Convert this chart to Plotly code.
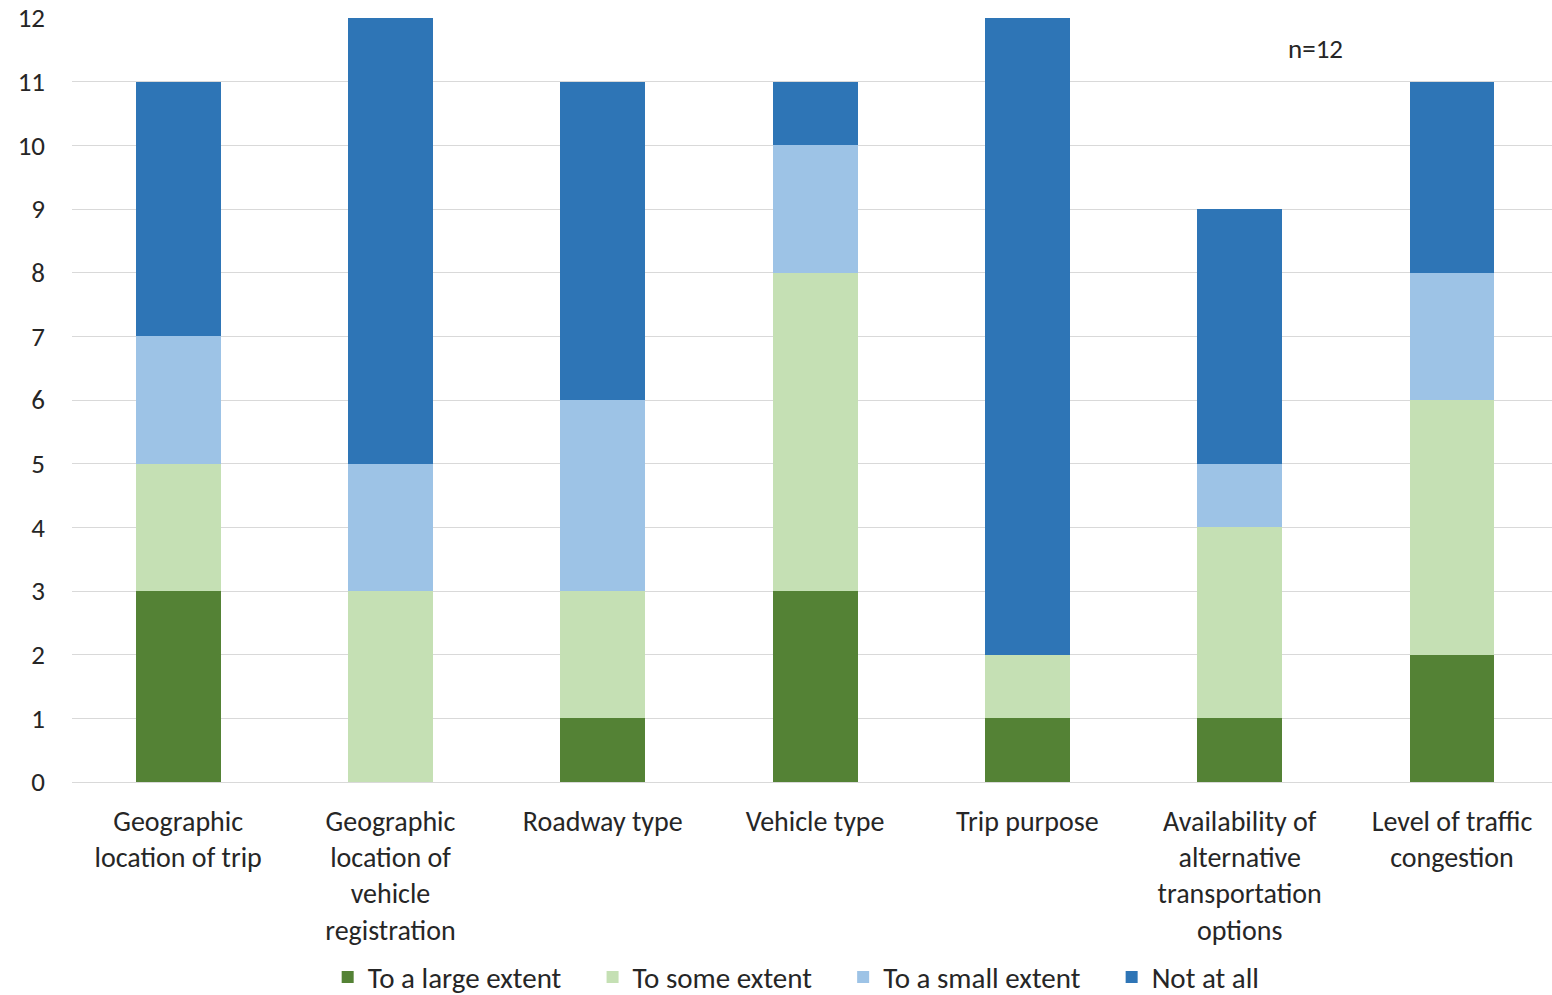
import plotly.graph_objects as go

categories = [
    "Geographic<br>location of trip",
    "Geographic<br>location of<br>vehicle<br>registration",
    "Roadway type",
    "Vehicle type",
    "Trip purpose",
    "Availability of<br>alternative<br>transportation<br>options",
    "Level of traffic<br>congestion",
]
large = [3, 0, 1, 3, 1, 1, 2]
some = [2, 3, 2, 5, 1, 3, 4]
small = [2, 2, 3, 2, 0, 1, 2]
not_at_all = [4, 7, 5, 1, 10, 4, 3]

series_names = ["To a large extent", "To some extent", "To a small extent", "Not at all"]
series_values = [large, some, small, not_at_all]
series_colors = ["#548235", "#C5E0B4", "#9DC3E6", "#2E75B6"]

FONT = "Carlito, Lato, sans-serif"
PAD = "&nbsp;" * 4
fig = go.Figure()
for i, (name, vals, color) in enumerate(zip(series_names, series_values, series_colors)):
    label = name + (PAD if i < len(series_names) - 1 else "")
    fig.add_trace(go.Bar(x=categories, y=vals, name=label,
                         marker=dict(color=color, line=dict(width=0))))

fig.update_layout(
    barmode="stack",
    bargap=0.6,
    width=1552, height=995,
    margin=dict(l=72, r=0, t=18, b=213),
    paper_bgcolor="white", plot_bgcolor="white",
    font=dict(family=FONT, size=28, color="#262626"),
    legend=dict(orientation="h", xref="container", yref="container", x=0.513, y=0.018,
                xanchor="center", yanchor="middle", font=dict(size=29), traceorder="normal",
                itemwidth=30, tracegroupgap=0),
    showlegend=True,
    annotations=[dict(text="n=12", x=0.8405, y=0.9607, xref="paper", yref="paper",
                      xanchor="center", yanchor="middle",
                      showarrow=False, font=dict(size=27, color="#262626"))],
)
fig.update_yaxes(range=[0, 12], dtick=1, showgrid=True, gridcolor="#D9D9D9", gridwidth=1,
                 zeroline=False, showline=False, ticks="", ticklabelstandoff=26,
                 tickfont=dict(size=27))
fig.update_xaxes(range=[-0.5, 6.471], showgrid=False, showline=True, linecolor="#D9D9D9",
                 linewidth=1, ticks="", tickangle=0, ticklabelstandoff=14,
                 tickfont=dict(size=28))

fig.write_html("out.html")
